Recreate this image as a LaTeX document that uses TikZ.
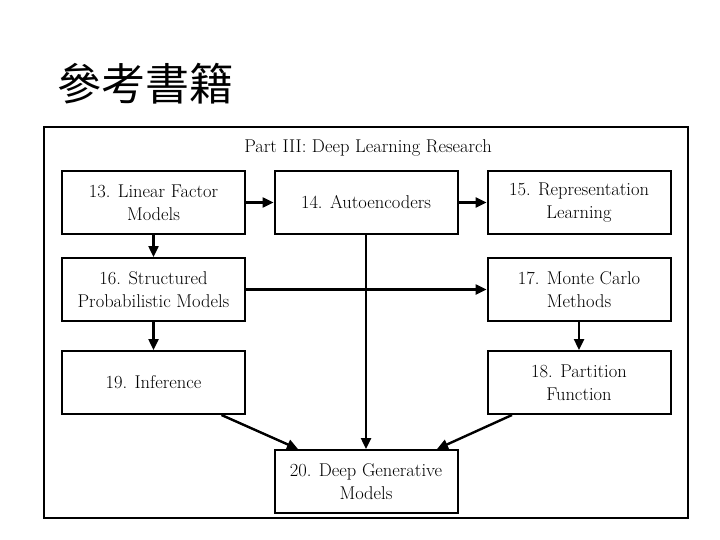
\documentclass[tikz,border=0pt]{standalone}
\usepackage{fontspec}
\newfontfamily\cjk{Noto Sans CJK TC}
\usetikzlibrary{arrows.meta}
\begin{document}
\begin{tikzpicture}[x=1pt,y=-1pt,
  chap/.style={draw,line width=2pt,minimum width=183pt,minimum height=63pt,align=center,inner sep=0pt,font=\fontsize{18.5}{23}\selectfont},
  arr/.style={line width=2.4pt,-{Triangle[length=11pt,width=10pt]}}]
\useasboundingbox (0,0) rectangle (720,540);
\node[font=\cjk\fontsize{44}{44}\selectfont,anchor=west] (title) at (54,84) {參考書籍};
\node[draw,line width=2pt,minimum width=644pt,minimum height=391pt,inner sep=0pt] (frame) at (366,322.5) {};
\node[font=\fontsize{18.5}{20}\selectfont] (part) at (368,148) {Part III: Deep Learning Research};
\node[chap] (c13) at (153.5,202.5) {13. Linear Factor\\Models};
\node[chap] (c14) at (366,202.5) {14. Autoencoders};
\node[chap] (c15) at (579,202.5) {15. Representation\\Learning};
\node[chap] (c16) at (153.5,289.5) {16. Structured\\Probabilistic Models};
\node[chap] (c17) at (579,289.5) {17. Monte Carlo\\Methods};
\node[chap] (c19) at (153.5,382.5) {19. Inference};
\node[chap] (c18) at (579,382.5) {18. Partition\\Function};
\node[chap] (c20) at (366,481.5) {20. Deep Generative\\Models};
\draw[arr] (c13) -- (c14);
\draw[arr] (c14) -- (c15);
\draw[arr] (c13) -- (c16);
\draw[arr] (c16) -- (c19);
\draw[arr] (c16) -- (c17);
\draw[arr] (c17) -- (c18);
\draw[arr] (c14) -- (c20);
\draw[arr] ([xshift=68pt]c19.south) -- ([xshift=-68pt]c20.north);
\draw[arr] ([xshift=-67pt]c18.south) -- ([xshift=71pt]c20.north);
\end{tikzpicture}
\end{document}
